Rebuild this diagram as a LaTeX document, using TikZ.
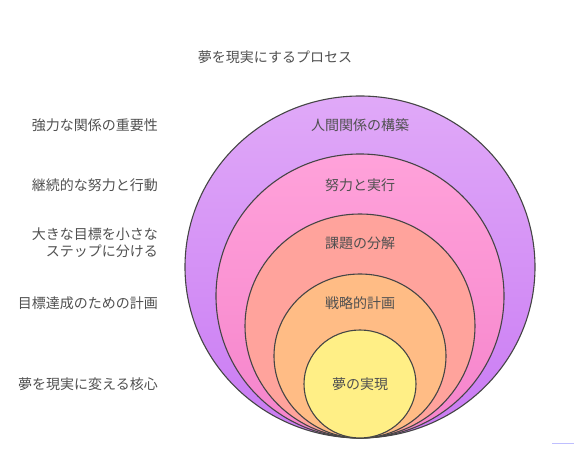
\documentclass[tikz,border=0pt]{standalone}
\usepackage{fontspec}
\setmainfont{Noto Sans CJK JP}
\usepackage{tikz}
\usetikzlibrary{positioning}

\definecolor{txtgray}{HTML}{505050}
\definecolor{rimgray}{HTML}{454545}
\definecolor{violettop}{HTML}{E0A9F8}
\definecolor{violetbot}{HTML}{C97AF3}
\definecolor{pinktop}{HTML}{FFA2DA}
\definecolor{pinkbot}{HTML}{F583CB}
\definecolor{salmon}{HTML}{FFA39C}
\definecolor{apricot}{HTML}{FFBC85}
\definecolor{lemon}{HTML}{FFEF86}

\tikzset{
  rim/.style={draw=rimgray, line width=1.1pt},
  lbl/.style={text=txtgray, font=\fontsize{14}{17}\selectfont, inner sep=0pt},
  side/.style={lbl, anchor=east, align=right}
}

\begin{document}
\begin{tikzpicture}[x=1pt, y=-1pt]
  \useasboundingbox (0,0) rectangle (574,465);
  % nested rings, all touching at the bottom
  \draw[rim, top color=violettop, bottom color=violetbot] (360,267) ellipse [x radius=175, y radius=171];
  \draw[rim, top color=pinktop, bottom color=pinkbot]     (360,296) ellipse [x radius=144, y radius=142];
  \draw[rim, fill=salmon]  (360,326) ellipse [x radius=115, y radius=112];
  \draw[rim, fill=apricot] (360,356) ellipse [x radius=86, y radius=82];
  \draw[rim, fill=lemon]   (360,384) ellipse [x radius=56, y radius=54];

  \node[lbl] (title) at (275,57) {夢を現実にするプロセス};

  % ring labels
  \node[lbl] (relations) at (360,125) {人間関係の構築};
  \node[lbl] (effort)    at (360,185) {努力と実行};
  \node[lbl] (tasks)     at (360,243) {課題の分解};
  \node[lbl] (plan)      at (360,303) {戦略的計画};
  \node[lbl] (dream)     at (360,384) {夢の実現};

  % side notes
  \node[side] (relnote)  at (158,125) {強力な関係の重要性};
  \node[side] (effnote)  at (158,185) {継続的な努力と行動};
  \node[side] (tasknote) at (158,243) {大きな目標を小さな\\ステップに分ける};
  \node[side] (plannote) at (158,303) {目標達成のための計画};
  \node[side] (corenote) at (158,384) {夢を現実に変える核心};

  \draw[blue!25, line width=1pt] (552,444) -- (574,444);
\end{tikzpicture}
\end{document}
